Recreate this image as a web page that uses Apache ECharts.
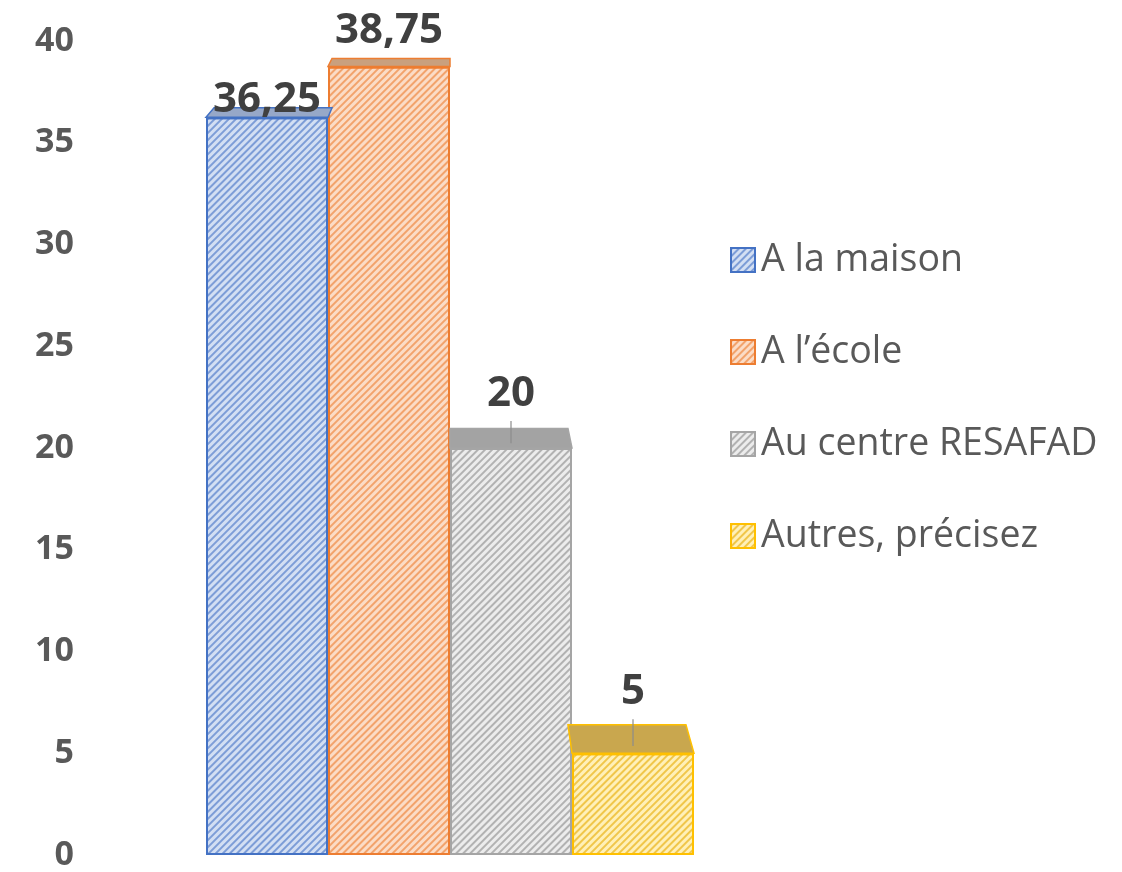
<!DOCTYPE html>
<html>
<head>
<meta charset="utf-8">
<script src="https://cdn.jsdelivr.net/npm/echarts@6/dist/echarts.min.js"></script>
<style>
    html, body { margin: 0; padding: 0; background: #fff; }
    #chart { width: 1122px; height: 872px; }
</style>
</head>
<body>
<div id="chart"></div>
<script>
    // données
    const categories = [''];
    const seriesNames = ['A la maison', 'A l\u2019école', 'Au centre RESAFAD', 'Autres, précisez'];
    const seriesValues = [36.25, 38.75, 20, 5];
    const valueLabels = ['36,25', '38,75', '20', '5'];

    // styles
    const lineColors = ['#4472C4', '#ED7D31', '#A5A5A5', '#FFC000'];
    const fillColors = ['#d3dff3', '#fbdcc6', '#ececec', '#fff0b8'];
    const stripeColors = ['rgba(68,114,196,0.6)', 'rgba(237,125,49,0.6)', 'rgba(140,140,140,0.6)', 'rgba(230,170,0,0.6)'];
    const topColors = ['#97a8c8', '#c9a07e', '#a3a3a3', '#c9a74e'];
    const labelOffset = [-4, 14, 33, 40];
    const BAR_W = 122;

    let myChart = echarts.init(document.getElementById('chart'));

    let barSeries = seriesNames.map((name, i) => ({
        name: name,
        type: 'bar',
        barWidth: BAR_W,
        barGap: '0%',
        data: [seriesValues[i]],
        itemStyle: {
            color: fillColors[i],
            borderColor: lineColors[i],
            borderWidth: 2,
            decal: {
                symbol: 'rect',
                symbolSize: 1,
                color: stripeColors[i],
                dashArrayX: [1, 0],
                dashArrayY: [2, 3],
                rotation: -Math.PI / 4
            }
        },
        z: 2
    }));

    // face supérieure "3D" + étiquettes
    let topSeries = {
        type: 'custom',
        silent: true,
        z: 3,
        encode: { x: 0, y: 1 },
        data: seriesValues.map((v, i) => [0, v, i]),
        renderItem: function (params, api) {
            let i = api.value(2);
            let p = api.coord([0, api.value(1)]);
            let cx = p[0];
            let x0 = cx + (i - 2) * BAR_W;
            let x1 = x0 + BAR_W;
            let yF = p[1];
            let depth = 6 + 0.03 * yF;
            let bx0 = x0 + (cx - x0) * 0.033;
            let bx1 = x1 + (cx - x1) * 0.033;
            let yB = yF - depth;
            let mid = (x0 + x1) / 2;
            let labelY = yF - labelOffset[i];
            let children = [{
                type: 'polygon',
                shape: { points: [[x0, yF], [x1, yF], [bx1, yB], [bx0, yB]] },
                style: { fill: topColors[i], stroke: lineColors[i], lineWidth: 1.5 }
            }, {
                type: 'text',
                style: {
                    text: valueLabels[i],
                    x: mid,
                    y: labelY,
                    align: 'center',
                    verticalAlign: 'bottom',
                    font: 'bold 42px "Open Sans"',
                    fill: '#404040'
                }
            }];
            if (labelOffset[i] > 20) {
                // trait de rappel
                children.push({
                    type: 'line',
                    shape: { x1: mid, y1: labelY + 6, x2: mid, y2: yF - depth * 0.25 },
                    style: { stroke: '#8c8c8c', lineWidth: 1.2 }
                });
            }
            return { type: 'group', children: children };
        }
    };

    let option = {
        animation: false,
        grid: {
            left: 130,
            right: 352,
            top: 41,
            bottom: 16
        },
        legend: {
            orient: 'vertical',
            left: 725,
            top: 236,
            icon: 'rect',
            itemWidth: 24,
            itemHeight: 24,
            itemGap: 54,
            data: seriesNames,
            textStyle: {
                fontFamily: 'Open Sans',
                fontSize: 37.5,
                lineHeight: 38,
                color: '#595959',
                padding: [0, 0, 0, 1]
            }
        },
        xAxis: {
            type: 'category',
            data: categories,
            axisLine: { show: false },
            axisTick: { show: false },
            axisLabel: { show: false }
        },
        yAxis: {
            type: 'value',
            min: 0,
            max: 40,
            interval: 5,
            splitLine: { show: false },
            axisLine: { show: false },
            axisTick: { show: false },
            axisLabel: {
                fontFamily: 'Open Sans',
                fontWeight: 'bold',
                fontSize: 34,
                color: '#595959',
                margin: 56
            }
        },
        series: barSeries.concat([topSeries])
    };

    myChart.setOption(option);
</script>
</body>
</html>
